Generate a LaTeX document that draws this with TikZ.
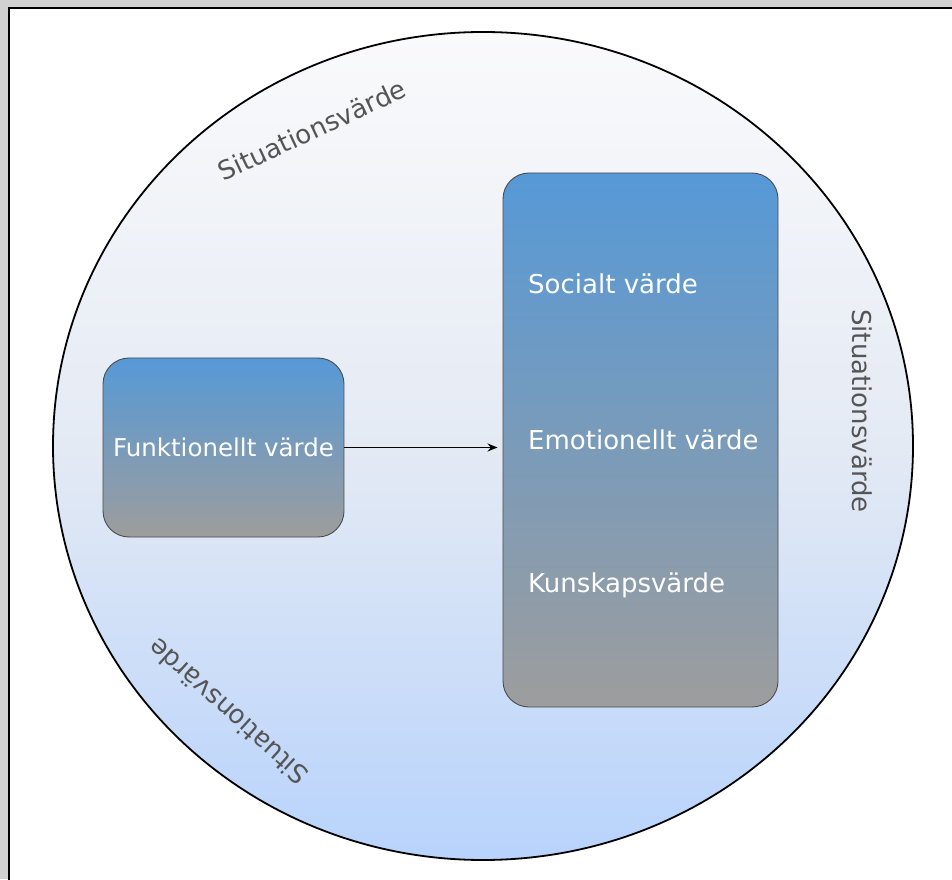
\documentclass[tikz,border=0pt]{standalone}
\usepackage{fontspec}
\setmainfont{DejaVu Sans}
\usetikzlibrary{arrows.meta}
\definecolor{boxblue}{RGB}{86,153,215}
\definecolor{boxgray}{RGB}{157,157,157}
\definecolor{rimtop}{RGB}{250,250,251}
\definecolor{rimmid}{RGB}{228,234,244}
\definecolor{rimbot}{RGB}{184,211,252}
\definecolor{labelgray}{RGB}{85,85,85}

\begin{document}
\begin{tikzpicture}[x=1pt,y=1pt,
  valuebox/.style={draw=black!70, line width=0.9pt, rounded corners=26pt, top color=boxblue, bottom color=boxgray, inner sep=0pt},
  valuetext/.style={text=white, font=\fontsize{26}{30}\selectfont, anchor=base west, inner sep=0pt},
  sitlabel/.style={text=labelgray, font=\fontsize{26}{30}\selectfont, inner sep=0pt}]
\useasboundingbox (0,0) rectangle (952,879);
% window frame
\fill[black!18] (0,0) rectangle (952,879);
\draw[line width=1.8pt, fill=white] (9,-10) rectangle (962,871);

% situation
\draw[line width=1.8pt, top color=rimtop, bottom color=rimbot, middle color=rimmid] (483,433) ellipse [x radius=430, y radius=414];
\node[sitlabel, rotate=25] (sit1) at (312,749) {Situationsvärde};
\node[sitlabel, rotate=-90] (sit2) at (862,468) {Situationsvärde};
\node[sitlabel, rotate=138] (sit3) at (228,167) {Situationsvärde};

% values
\node[valuebox, minimum width=241pt, minimum height=179pt, text=white, font=\fontsize{24.5}{28}\selectfont] (funk) at (223.5,431.5) {Funktionellt värde};
\node[valuebox, minimum width=275pt, minimum height=534pt] (pers) at (640.5,439) {};
\node[valuetext] (social) at (528,585) {Socialt värde};
\node[valuetext] (emo) at (528,430) {Emotionellt värde};
\node[valuetext] (kunskap) at (528,287) {Kunskapsvärde};

\draw[-{Stealth[length=10pt,width=8pt]}, line width=1.6pt, shorten >=5pt] (funk.east) -- (funk.east -| pers.west);
\end{tikzpicture}
\end{document}
